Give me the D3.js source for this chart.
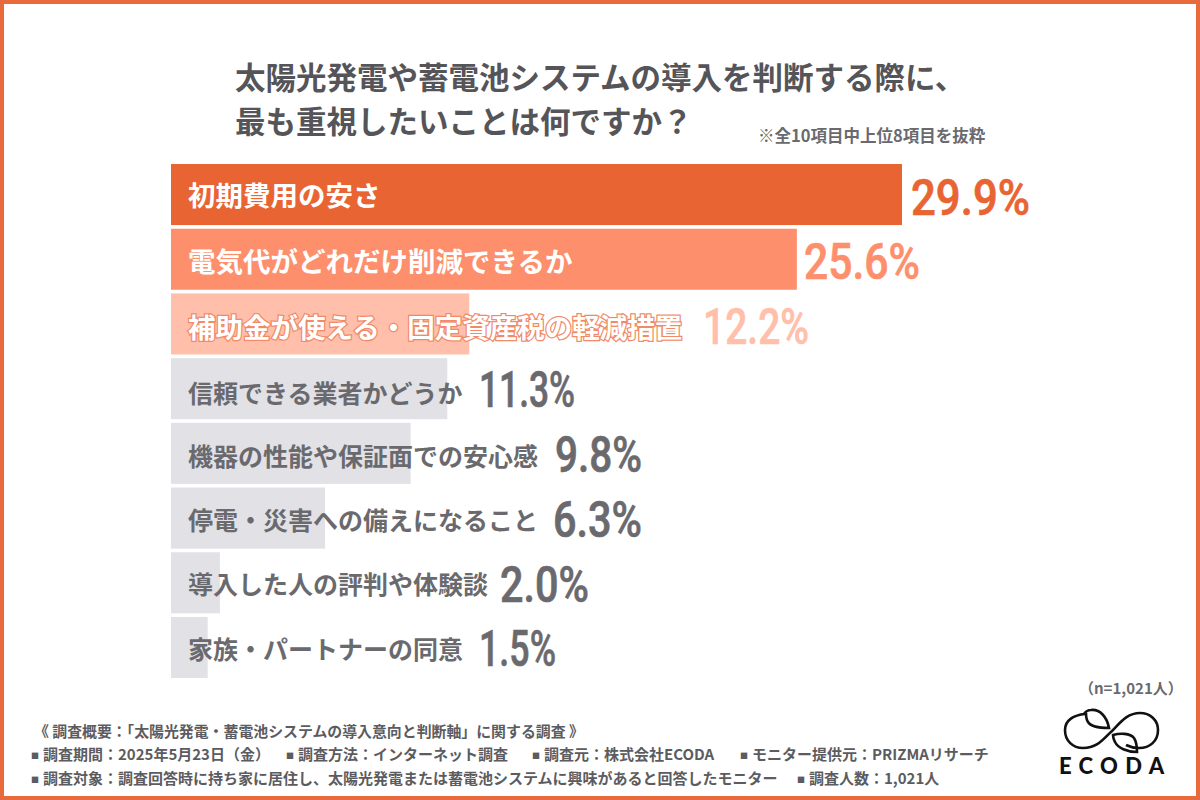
<!DOCTYPE html>
<html lang="ja"><head><meta charset="utf-8">
<script src="https://cdnjs.cloudflare.com/ajax/libs/d3/7.8.5/d3.min.js"></script>
<style>html,body{margin:0;padding:0;background:#fff}svg{display:block}text{font-family:"Noto Sans CJK JP","Noto Sans",sans-serif}</style>
</head><body><svg id="c" width="1200" height="800"></svg>
<script>
const categories=["初期費用の安さ","電気代がどれだけ削減できるか","補助金が使える・固定資産税の軽減措置","信頼できる業者かどうか","機器の性能や保証面での安心感","停電・災害への備えになること","導入した人の評判や体験談","家族・パートナーの同意"];
const values=[29.9,25.6,12.2,11.3,9.8,6.3,2.0,1.5];
const barColors=["#e96433","#fe8f6d","#ffbfaa","#e1e1e6","#e1e1e6","#e1e1e6","#e1e1e6","#e1e1e6"];
const labelColors=["#fff","#fff","#fff","#6a6a6e","#6a6a6e","#6a6a6e","#6a6a6e","#6a6a6e"];
const valueColors=["#e96433","#fe8f6d","#ffbfaa","#6a6a6e","#6a6a6e","#6a6a6e","#6a6a6e","#6a6a6e"];
const titleLines=["太陽光発電や蓄電池システムの導入を判断する際に、","最も重視したいことは何ですか？"];
const noteText="※全10項目中上位8項目を抜粋";
const sampleText="（n=1,021人）";
const footerHead="《 調査概要：「太陽光発電・蓄電池システムの導入意向と判断軸」に関する調査 》";
const footerItems=[
 [[43,"調査期間：2025年5月23日（金）"],[298,"調査方法：インターネット調査"],[544,"調査元：株式会社ECODA"],[752,"モニター提供元：PRIZMAリサーチ"]],
 [[43,"調査対象：調査回答時に持ち家に居住し、太陽光発電または蓄電池システムに興味があると回答したモニター"],[809,"調査人数：1,021人"]]
];
const svg=d3.select("#c");
svg.append("rect").attr("x",2).attr("y",2).attr("width",1196).attr("height",796).attr("fill","#fff").attr("stroke","#e96a3c").attr("stroke-width",4);
const x=d3.scaleLinear().domain([0,29.9]).range([171,902]);
const y=d3.scaleBand().domain(categories).range([164,678]).paddingInner(0.0565).paddingOuter(0);
svg.selectAll("text.t").data(titleLines).join("text").attr("class","t").attr("x",235).attr("y",(d,i)=>89+i*44).attr("font-size",30.5).attr("font-weight",700).attr("fill","#555559").text(d=>d);
svg.append("text").attr("x",758).attr("y",142).attr("font-size",16.5).attr("font-weight",700).attr("fill","#6a6a6e").text(noteText);
svg.selectAll("rect.b").data(values).join("rect").attr("class","b").attr("x",x(0)).attr("y",(d,i)=>y(categories[i])).attr("width",d=>x(d)-x(0)).attr("height",y.bandwidth()).attr("fill",(d,i)=>barColors[i]);
const labelDy=[11,12.8,14,14.4,12.6,12,11.2,11.5];
svg.selectAll("text.l").data(categories).join("text").attr("class","l").attr("x",188).attr("y",(d,i)=>y(d)+y.bandwidth()/2+labelDy[i]).attr("font-size",(d,i)=>i<3?27.5:25).attr("font-weight",700)
 .attr("fill",(d,i)=>labelColors[i]).attr("stroke",(d,i)=>i===2?"#f08a68":"none").attr("stroke-width",(d,i)=>i===2?2.5:0).attr("paint-order","stroke").text(d=>d);
const valueX=[911,804,703,479,555,553,500,479];
const valueW=[119,116,106,96,87,89,89,77];
const valueDy=[20,20,20,18.5,18.5,19,19,19];
svg.selectAll("text.v").data(values).join("text").attr("class","v")
 .attr("x",(d,i)=>valueX[i]).attr("y",(d,i)=>y(categories[i])+y.bandwidth()/2+valueDy[i])
 .attr("textLength",(d,i)=>valueW[i]).attr("lengthAdjust","spacingAndGlyphs")
 .attr("font-size",50).attr("font-weight",500).attr("fill",(d,i)=>valueColors[i]).attr("stroke",(d,i)=>valueColors[i]).attr("stroke-width",0.7).style("font-family","Roboto").text(d=>d.toFixed(1)+"%");
const fy=[737,760,784];
svg.append("text").attr("x",34).attr("y",fy[0]).attr("font-size",14.9).attr("font-weight",700).attr("fill","#5c5c60").text(footerHead);
footerItems.forEach((ln,i)=>ln.forEach(p=>{
 svg.append("text").attr("x",p[0]-12).attr("y",fy[i+1]-1).attr("font-size",8).attr("font-weight",700).attr("fill","#5c5c60").text("■");
 svg.append("text").attr("x",p[0]).attr("y",fy[i+1]).attr("font-size",15).attr("font-weight",700).attr("fill","#5c5c60").text(p[1]);
}));
svg.append("text").attr("x",1079).attr("y",694).attr("font-size",15).attr("font-weight",700).attr("fill","#6a6a6e").text(sampleText);
const logo=svg.append("g").attr("fill","none").attr("stroke","#111").attr("stroke-width",2.6);
logo.append("path").attr("d","M1085 714 C1074 715 1065 720 1065 730 C1065 741 1073 748 1083 748 C1098 748 1104 738 1112 731 C1120 723 1127 713 1140 713 C1150 713 1158 720 1158 730 C1158 741 1150 748 1139 748 C1134 748 1130 747 1126 745");
logo.append("path").attr("d","M1084 714 C1086 711 1089 710 1091 710 C1100 709 1107 717 1109 728 C1100 728 1091 727 1088 722 C1086 719 1086 715 1086 713");
logo.append("path").attr("d","M1113 735 C1120 733 1130 733 1134 738 C1136 741 1137 745 1137 752 C1127 752 1118 748 1115 742 C1114 740 1113 737 1113 735Z");
svg.append("text").attr("x",1059).attr("y",774).attr("font-size",22).attr("font-weight",900).attr("letter-spacing",7.3).attr("fill","#111").style("font-family","Lato").text("ECODA");
</script></body></html>
